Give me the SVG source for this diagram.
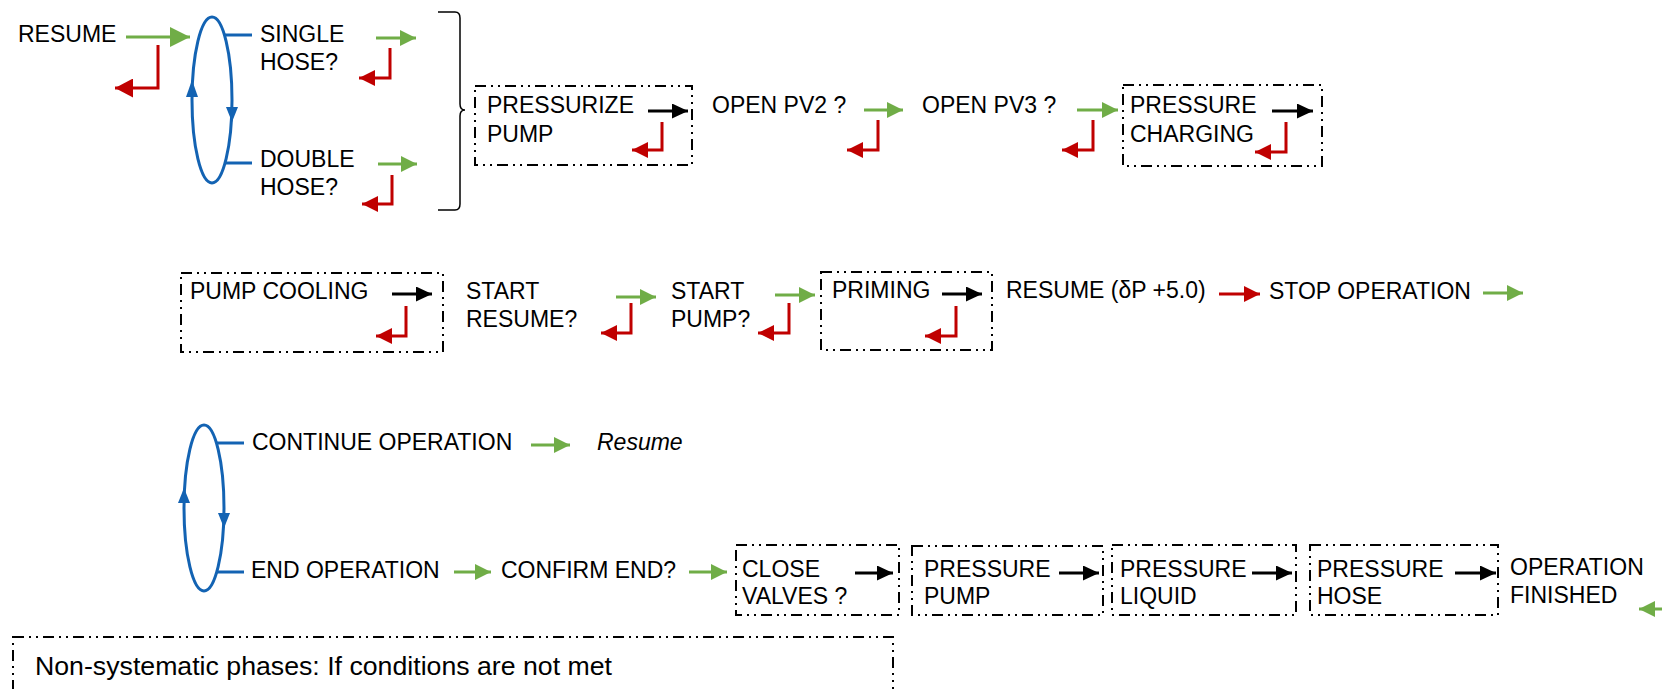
<svg xmlns="http://www.w3.org/2000/svg" width="1662" height="689" viewBox="0 0 1662 689">
<style>
text{font-family:"Liberation Sans",Arial,sans-serif;font-size:23px;fill:#000}
text.legend{font-size:26.7px}
.box{fill:none;stroke:#000;stroke-width:2;stroke-dasharray:11 5 2 5 2 5}
.g{stroke:#70ad47;stroke-width:3;fill:none;marker-end:url(#mg)}
.r{stroke:#c00000;stroke-width:3;fill:none;marker-end:url(#mr)}
.k{stroke:#000;stroke-width:3;fill:none;marker-end:url(#mk)}
.b{stroke:#1363b3;stroke-width:3;fill:none}
.bh{fill:#1363b3}
</style>
<defs>
<marker id="mg" markerUnits="userSpaceOnUse" markerWidth="17" markerHeight="16" refX="16" refY="8" orient="auto"><path d="M0,0 L16,8 L0,16 z" fill="#70ad47"/></marker>
<marker id="mgL" markerUnits="userSpaceOnUse" markerWidth="21" markerHeight="20" refX="20" refY="10" orient="auto"><path d="M0,0 L20,10 L0,20 z" fill="#70ad47"/></marker>
<marker id="mr" markerUnits="userSpaceOnUse" markerWidth="17" markerHeight="16" refX="16" refY="8" orient="auto"><path d="M0,0 L16,8 L0,16 z" fill="#c00000"/></marker>
<marker id="mrL" markerUnits="userSpaceOnUse" markerWidth="19" markerHeight="19" refX="18" refY="9.5" orient="auto"><path d="M0,0 L18,9.5 L0,19 z" fill="#c00000"/></marker>
<marker id="mk" markerUnits="userSpaceOnUse" markerWidth="17" markerHeight="15" refX="16" refY="7.5" orient="auto"><path d="M0,0 L16,7.5 L0,15 z" fill="#000"/></marker>
</defs>

<g id="connectors">
  <!-- row 1 -->
  <line x1="126" y1="37" x2="190" y2="37" stroke="#70ad47" stroke-width="3" marker-end="url(#mgL)"/>
  <path d="M158,45 V88 H115" stroke="#c00000" stroke-width="3" fill="none" marker-end="url(#mrL)"/>
  <ellipse class="b" cx="212" cy="100" rx="20" ry="83"/>
  <line class="b" x1="225" y1="35" x2="252" y2="35"/>
  <line class="b" x1="225" y1="163" x2="252" y2="163"/>
  <polygon class="bh" points="192,80 186,97 198,97"/>
  <polygon class="bh" points="232,122 226,107 238,107"/>
  <line class="g" x1="376" y1="38" x2="416" y2="38"/>
  <path class="r" d="M390,48 V78 H359"/>
  <line class="g" x1="378" y1="164" x2="417" y2="164"/>
  <path class="r" d="M392,175 V204 H362"/>
  <path d="M438,12 H455 Q460,12 460,18 V104 Q460,110 465,110 Q460,110 460,116 V204 Q460,210 455,210 H438" fill="none" stroke="#000" stroke-width="1.5"/>
  <line class="k" x1="648" y1="111" x2="688" y2="111"/>
  <path class="r" d="M662,122 V150 H632"/>
  <line class="g" x1="864" y1="110" x2="903" y2="110"/>
  <path class="r" d="M878,120 V150 H847"/>
  <line class="g" x1="1077" y1="110" x2="1118" y2="110"/>
  <path class="r" d="M1093,120 V150 H1062"/>
  <line class="k" x1="1272" y1="111" x2="1313" y2="111"/>
  <path class="r" d="M1286,122 V152 H1255"/>
  <!-- row 2 -->
  <line class="k" x1="392" y1="294" x2="432" y2="294"/>
  <path class="r" d="M406,306 V336 H376"/>
  <line class="g" x1="616" y1="297" x2="656" y2="297"/>
  <path class="r" d="M631,303 V333 H601"/>
  <line class="g" x1="775" y1="295" x2="815" y2="295"/>
  <path class="r" d="M789,303 V333 H758"/>
  <line class="k" x1="942" y1="294" x2="982" y2="294"/>
  <path class="r" d="M956,306 V336 H925"/>
  <line class="r" x1="1219" y1="294" x2="1260" y2="294"/>
  <line class="g" x1="1483" y1="293" x2="1523" y2="293"/>
  <!-- row 3 -->
  <ellipse class="b" cx="204" cy="508" rx="20" ry="83"/>
  <line class="b" x1="217" y1="443" x2="244" y2="443"/>
  <line class="b" x1="217" y1="572" x2="244" y2="572"/>
  <polygon class="bh" points="184,488 178,503 190,503"/>
  <polygon class="bh" points="224,528 218,513 230,513"/>
  <line class="g" x1="531" y1="445" x2="570" y2="445"/>
  <line class="g" x1="454" y1="572" x2="491" y2="572"/>
  <line class="g" x1="689" y1="572" x2="727" y2="572"/>
  <line class="k" x1="855" y1="573" x2="893" y2="573"/>
  <line class="k" x1="1059" y1="573" x2="1099" y2="573"/>
  <line class="k" x1="1252" y1="573" x2="1292" y2="573"/>
  <line class="k" x1="1455" y1="573" x2="1496" y2="573"/>
  <line class="g" x1="1664" y1="609" x2="1639" y2="609"/>
</g>

<g id="n_resume"><text x="18" y="42">RESUME</text></g>
<g id="n_single"><text x="260" y="42">SINGLE</text><text x="260" y="70">HOSE?</text></g>
<g id="n_double"><text x="260" y="167">DOUBLE</text><text x="260" y="195">HOSE?</text></g>
<g id="n_pressurize"><rect class="box" x="475" y="86" width="217" height="79"/><text x="487" y="113">PRESSURIZE</text><text x="487" y="142">PUMP</text></g>
<g id="n_pv2"><text x="712" y="113">OPEN PV2 ?</text></g>
<g id="n_pv3"><text x="922" y="113">OPEN PV3 ?</text></g>
<g id="n_charging"><rect class="box" x="1123" y="85" width="199" height="81"/><text x="1130" y="113">PRESSURE</text><text x="1130" y="142">CHARGING</text></g>

<g id="n_cooling"><rect class="box" x="181" y="273" width="262" height="79"/><text x="190" y="299">PUMP COOLING</text></g>
<g id="n_startresume"><text x="466" y="299">START</text><text x="466" y="327">RESUME?</text></g>
<g id="n_startpump"><text x="671" y="299">START</text><text x="671" y="327">PUMP?</text></g>
<g id="n_priming"><rect class="box" x="821" y="272" width="171" height="78"/><text x="832" y="298">PRIMING</text></g>
<g id="n_resumedp"><text x="1006" y="298">RESUME (δP +5.0)</text></g>
<g id="n_stop"><text x="1269" y="299">STOP OPERATION</text></g>

<g id="n_continue"><text x="252" y="450">CONTINUE OPERATION</text></g>
<g id="n_resume_it"><text x="597" y="450" font-style="italic">Resume</text></g>
<g id="n_end"><text x="251" y="578">END OPERATION</text></g>
<g id="n_confirm"><text x="501" y="578">CONFIRM END?</text></g>
<g id="n_close"><rect class="box" x="736" y="545" width="163" height="70"/><text x="742" y="577">CLOSE</text><text x="742" y="604">VALVES ?</text></g>
<g id="n_ppump"><rect class="box" x="912" y="546" width="191" height="69"/><text x="924" y="577">PRESSURE</text><text x="924" y="604">PUMP</text></g>
<g id="n_pliquid"><rect class="box" x="1112" y="545" width="184" height="70"/><text x="1120" y="577">PRESSURE</text><text x="1120" y="604">LIQUID</text></g>
<g id="n_phose"><rect class="box" x="1310" y="545" width="188" height="70"/><text x="1317" y="577">PRESSURE</text><text x="1317" y="604">HOSE</text></g>
<g id="n_finished"><text x="1510" y="575">OPERATION</text><text x="1510" y="603">FINISHED</text></g>

<g id="n_legend"><rect class="box" x="13" y="637" width="880" height="62"/><text class="legend" x="35" y="675">Non-systematic phases: If conditions are not met</text></g>
</svg>
